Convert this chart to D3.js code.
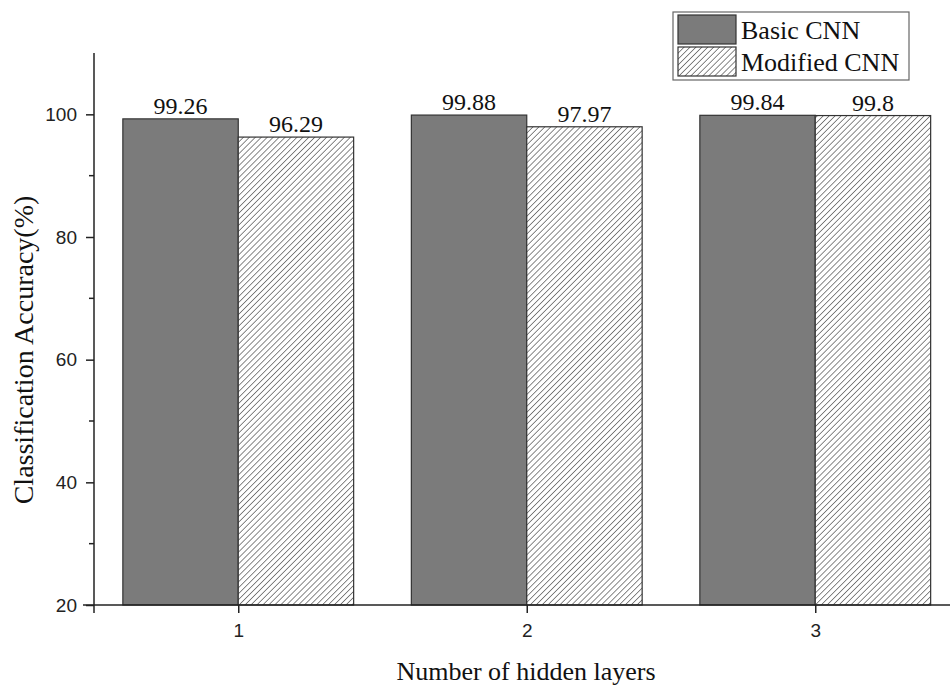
<!DOCTYPE html>
<html>
<head>
<meta charset="utf-8">
<script src="https://cdn.jsdelivr.net/npm/d3@7"></script>
<style>
  html, body { margin: 0; padding: 0; background: #fff; }
  svg { display: block; }
</style>
</head>
<body>
<svg id="chart" width="950" height="687"></svg>
<script>
// Data
const categories = [1, 2, 3];
const seriesNames = ["Basic CNN", "Modified CNN"];
const basicValues = [99.26, 99.88, 99.84];
const modifiedValues = [96.29, 97.97, 99.8];
const basicLabels = ["99.26", "99.88", "99.84"];
const modifiedLabels = ["96.29", "97.97", "99.8"];
const yTicks = [20, 40, 60, 80, 100];
const yMinorTicks = [30, 50, 70, 90];

const svg = d3.select("#chart");
const serif = "'Liberation Serif', 'Times New Roman', serif";
const sans = "'Liberation Sans', Arial, sans-serif";

// Hatch pattern for the modified series
const defs = svg.append("defs");
const pat = defs.append("pattern")
  .attr("id", "hatch")
  .attr("patternUnits", "userSpaceOnUse")
  .attr("width", 4.2).attr("height", 4.2)
  .attr("patternTransform", "rotate(45)");
pat.append("rect").attr("width", 4.2).attr("height", 4.2).attr("fill", "#fff");
pat.append("line").attr("x1", 0).attr("y1", 0).attr("x2", 0).attr("y2", 4.2)
  .attr("stroke", "#4a4a4a").attr("stroke-width", 1.3);

// Scales
const x = d3.scaleLinear().domain([0.5, 3.5]).range([94, 959.5]);
const y = d3.scaleLinear().domain([20, 110]).range([605, 53]);
const barW = (x(2) - x(1)) * 0.4;

// Bars
const basicBars = svg.append("g");
basicBars.selectAll("rect").data(categories).join("rect")
  .attr("x", d => x(d) - barW)
  .attr("y", (d, i) => y(basicValues[i]))
  .attr("width", barW)
  .attr("height", (d, i) => y(20) - y(basicValues[i]))
  .attr("fill", "#7b7b7b")
  .attr("stroke", "#333").attr("stroke-width", 1.2);

const modBars = svg.append("g");
modBars.selectAll("rect").data(categories).join("rect")
  .attr("x", d => x(d))
  .attr("y", (d, i) => y(modifiedValues[i]))
  .attr("width", barW)
  .attr("height", (d, i) => y(20) - y(modifiedValues[i]))
  .attr("fill", "url(#hatch)")
  .attr("stroke", "#333").attr("stroke-width", 1.2);

// Value labels
const labelG = svg.append("g")
  .attr("font-family", serif).attr("font-size", 24).attr("fill", "#111")
  .attr("text-anchor", "middle");
labelG.selectAll("text.b").data(categories).join("text").attr("class", "b")
  .attr("x", d => x(d) - barW / 2)
  .attr("y", (d, i) => y(basicValues[i]) - 5)
  .text((d, i) => basicLabels[i]);
labelG.selectAll("text.m").data(categories).join("text").attr("class", "m")
  .attr("x", d => x(d) + barW / 2)
  .attr("y", (d, i) => y(modifiedValues[i]) - 5)
  .text((d, i) => modifiedLabels[i]);

// Y axis
const yAxis = d3.axisLeft(y).tickValues(yTicks).tickSize(8).tickPadding(9)
  .tickFormat(d3.format("d"));
const yg = svg.append("g").attr("transform", "translate(94,0)").call(yAxis);
yg.select(".domain").attr("stroke", "#222").attr("stroke-width", 1.5)
  .attr("d", `M0,${y(110)}V${y(20) + 8}`);
yg.selectAll(".tick line").attr("stroke", "#222").attr("stroke-width", 1.5);
yg.selectAll(".tick text").attr("font-family", sans).attr("font-size", 19).attr("fill", "#222");
yg.append("g").selectAll("line").data(yMinorTicks).join("line")
  .attr("x1", -5).attr("x2", 0)
  .attr("y1", d => y(d)).attr("y2", d => y(d))
  .attr("stroke", "#222").attr("stroke-width", 1.5);

// X axis
const xAxis = d3.axisBottom(x).tickValues(categories).tickSize(8).tickPadding(11)
  .tickFormat(d3.format("d"));
const xg = svg.append("g").attr("transform", `translate(0,${y(20)})`).call(xAxis);
xg.select(".domain").attr("stroke", "#222").attr("stroke-width", 1.5)
  .attr("d", `M83,0H950`);
xg.selectAll(".tick line").attr("stroke", "#222").attr("stroke-width", 1.5);
xg.selectAll(".tick text").attr("font-family", sans).attr("font-size", 19).attr("fill", "#222");

// Axis titles
svg.append("text")
  .attr("transform", `translate(33,350) rotate(-90)`)
  .attr("text-anchor", "middle")
  .attr("font-family", serif).attr("font-size", 28).attr("fill", "#111")
  .text("Classification Accuracy(%)");
svg.append("text")
  .attr("x", 526).attr("y", 680)
  .attr("text-anchor", "middle")
  .attr("font-family", serif).attr("font-size", 26).attr("fill", "#111")
  .text("Number of hidden layers");

// Legend
const legend = svg.append("g");
legend.append("rect").attr("x", 673).attr("y", 12).attr("width", 236).attr("height", 68)
  .attr("fill", "#fff").attr("stroke", "#666").attr("stroke-width", 1.2);
const fills = ["#7b7b7b", "url(#hatch)"];
seriesNames.forEach((name, i) => {
  const ly = 15 + i * 32;
  legend.append("rect").attr("x", 678).attr("y", ly).attr("width", 58).attr("height", 29)
    .attr("fill", fills[i]).attr("stroke", "#333").attr("stroke-width", 1.2);
  legend.append("text").attr("x", 741).attr("y", ly + 24)
    .attr("font-family", serif).attr("font-size", 26).attr("fill", "#111")
    .text(name);
});
</script>
</body>
</html>
